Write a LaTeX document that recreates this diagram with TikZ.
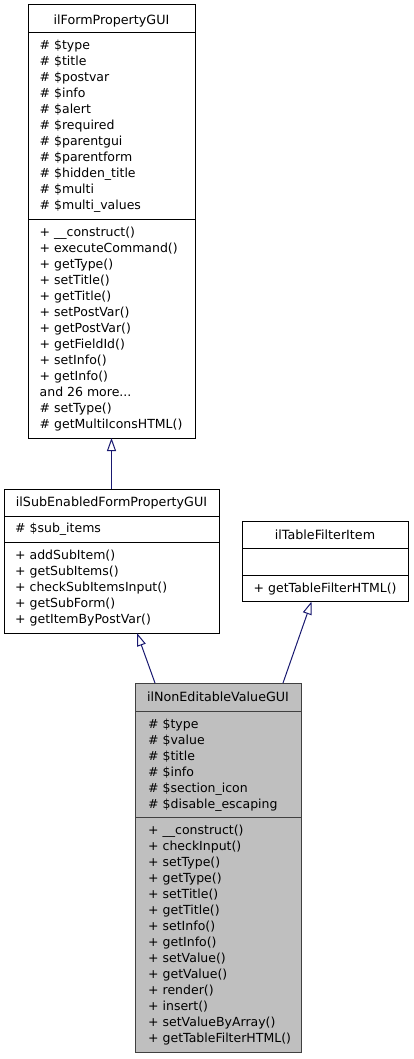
\documentclass[tikz,border=0pt]{standalone}
\usepackage{fontspec}
\setmainfont{DejaVu Sans}
\usetikzlibrary{arrows.meta,calc}
\definecolor{edgeblue}{HTML}{191970}
\definecolor{curfill}{HTML}{BFBFBF}
\definecolor{curline}{HTML}{404040}
\newcommand\mydots{...}
\tikzset{
  box/.style={draw=black, line width=1pt, fill=white, anchor=north west, inner sep=0, outer sep=0},
  curbox/.style={box, draw=curline, fill=curfill},
  sep/.style={line width=1pt},
  txt/.style={anchor=base west, inner sep=0, font=\fontsize{12.5}{16}\selectfont},
  ttl/.style={anchor=base, inner sep=0, font=\fontsize{12.7}{16}\selectfont},
  inh/.style={draw=edgeblue, line width=1pt, -{Triangle[length=13pt, width=9pt, fill=white]}}
}
\begin{document}
\begin{tikzpicture}[x=1pt,y=-1pt]
\useasboundingbox (0,0) rectangle (413,1059);

% ---- ilFormPropertyGUI
\node[box, minimum width=167pt, minimum height=433pt] (b1) at (28,5) {};
\node[ttl] (b1t) at (111.5,24.5) {ilFormPropertyGUI};
\draw[sep] (28,33) -- (195,33);
\draw[sep] (28,219.5) -- (195,219.5);
\foreach \t [count=\i from 0] in {\# \$type,\# \$title,\# \$postvar,\# \$info,\# \$alert,\# \$required,\# \$parentgui,\# \$parentform,\# \$hidden\_title,\# \$multi,\# \$multi\_values}
  \node[txt] (b1a\i) at (39.5,50+16*\i) {\t};
\foreach \t [count=\i from 0] in {+ \_\_construct(),+ executeCommand(),+ getType(),+ setTitle(),+ getTitle(),+ setPostVar(),+ getPostVar(),+ getFieldId(),+ setInfo(),+ getInfo(),and 26 more\mydots,\# setType(),\# getMultiIconsHTML()}
  \node[txt] (b1m\i) at (39.5,236.5+16*\i) {\t};

% ---- ilSubEnabledFormPropertyGUI
\node[box, minimum width=215pt, minimum height=144pt] (b2) at (4,489) {};
\node[ttl] (b2t) at (111.5,506.5) {ilSubEnabledFormPropertyGUI};
\draw[sep] (4,516) -- (219,516);
\draw[sep] (4,542.5) -- (219,542.5);
\node[txt] (b2a0) at (15,532.5) {\# \$sub\_items};
\foreach \t [count=\i from 0] in {+ addSubItem(),+ getSubItems(),+ checkSubItemsInput(),+ getSubForm(),+ getItemByPostVar()}
  \node[txt] (b2m\i) at (15,559.5+16*\i) {\t};

% ---- ilTableFilterItem
\node[box, minimum width=166pt, minimum height=80.5pt] (b3) at (242,521) {};
\node[ttl] (b3t) at (325,539.5) {ilTableFilterItem};
\draw[sep] (242,548) -- (408,548);
\draw[sep] (242,575) -- (408,575);
\node[txt] (b3m0) at (253.5,592) {+ getTableFilterHTML()};

% ---- ilNonEditableValueGUI
\node[curbox, minimum width=166pt, minimum height=369pt] (b4) at (135,683) {};
\node[ttl] (b4t) at (218,701.5) {ilNonEditableValueGUI};
\draw[sep, curline] (135,711) -- (301,711);
\draw[sep, curline] (135,817.5) -- (301,817.5);
\foreach \t [count=\i from 0] in {\# \$type,\# \$value,\# \$title,\# \$info,\# \$section\_icon,\# \$disable\_escaping}
  \node[txt] (b4a\i) at (148,728+16*\i) {\t};
\foreach \t [count=\i from 0] in {+ \_\_construct(),+ checkInput(),+ setType(),+ getType(),+ setTitle(),+ getTitle(),+ setInfo(),+ getInfo(),+ setValue(),+ getValue(),+ render(),+ insert(),+ setValueByArray(),+ getTableFilterHTML()}
  \node[txt] (b4m\i) at (148,834.5+16*\i) {\t};

% ---- inheritance edges
\coordinate (e2s) at ($(b4.north west)+(20,0)$);
\coordinate (e2t) at ($(b2.south west)+(133,0)$);
\coordinate (e3s) at ($(b4.north west)+(148,0)$);
\coordinate (e3t) at ($(b3.south west)+(69.5,0)$);
\draw[inh] (b2.north) -- (b1.south);
\draw[inh] (e2s) -- (e2t);
\draw[inh] (e3s) -- (e3t);
\end{tikzpicture}
\end{document}
